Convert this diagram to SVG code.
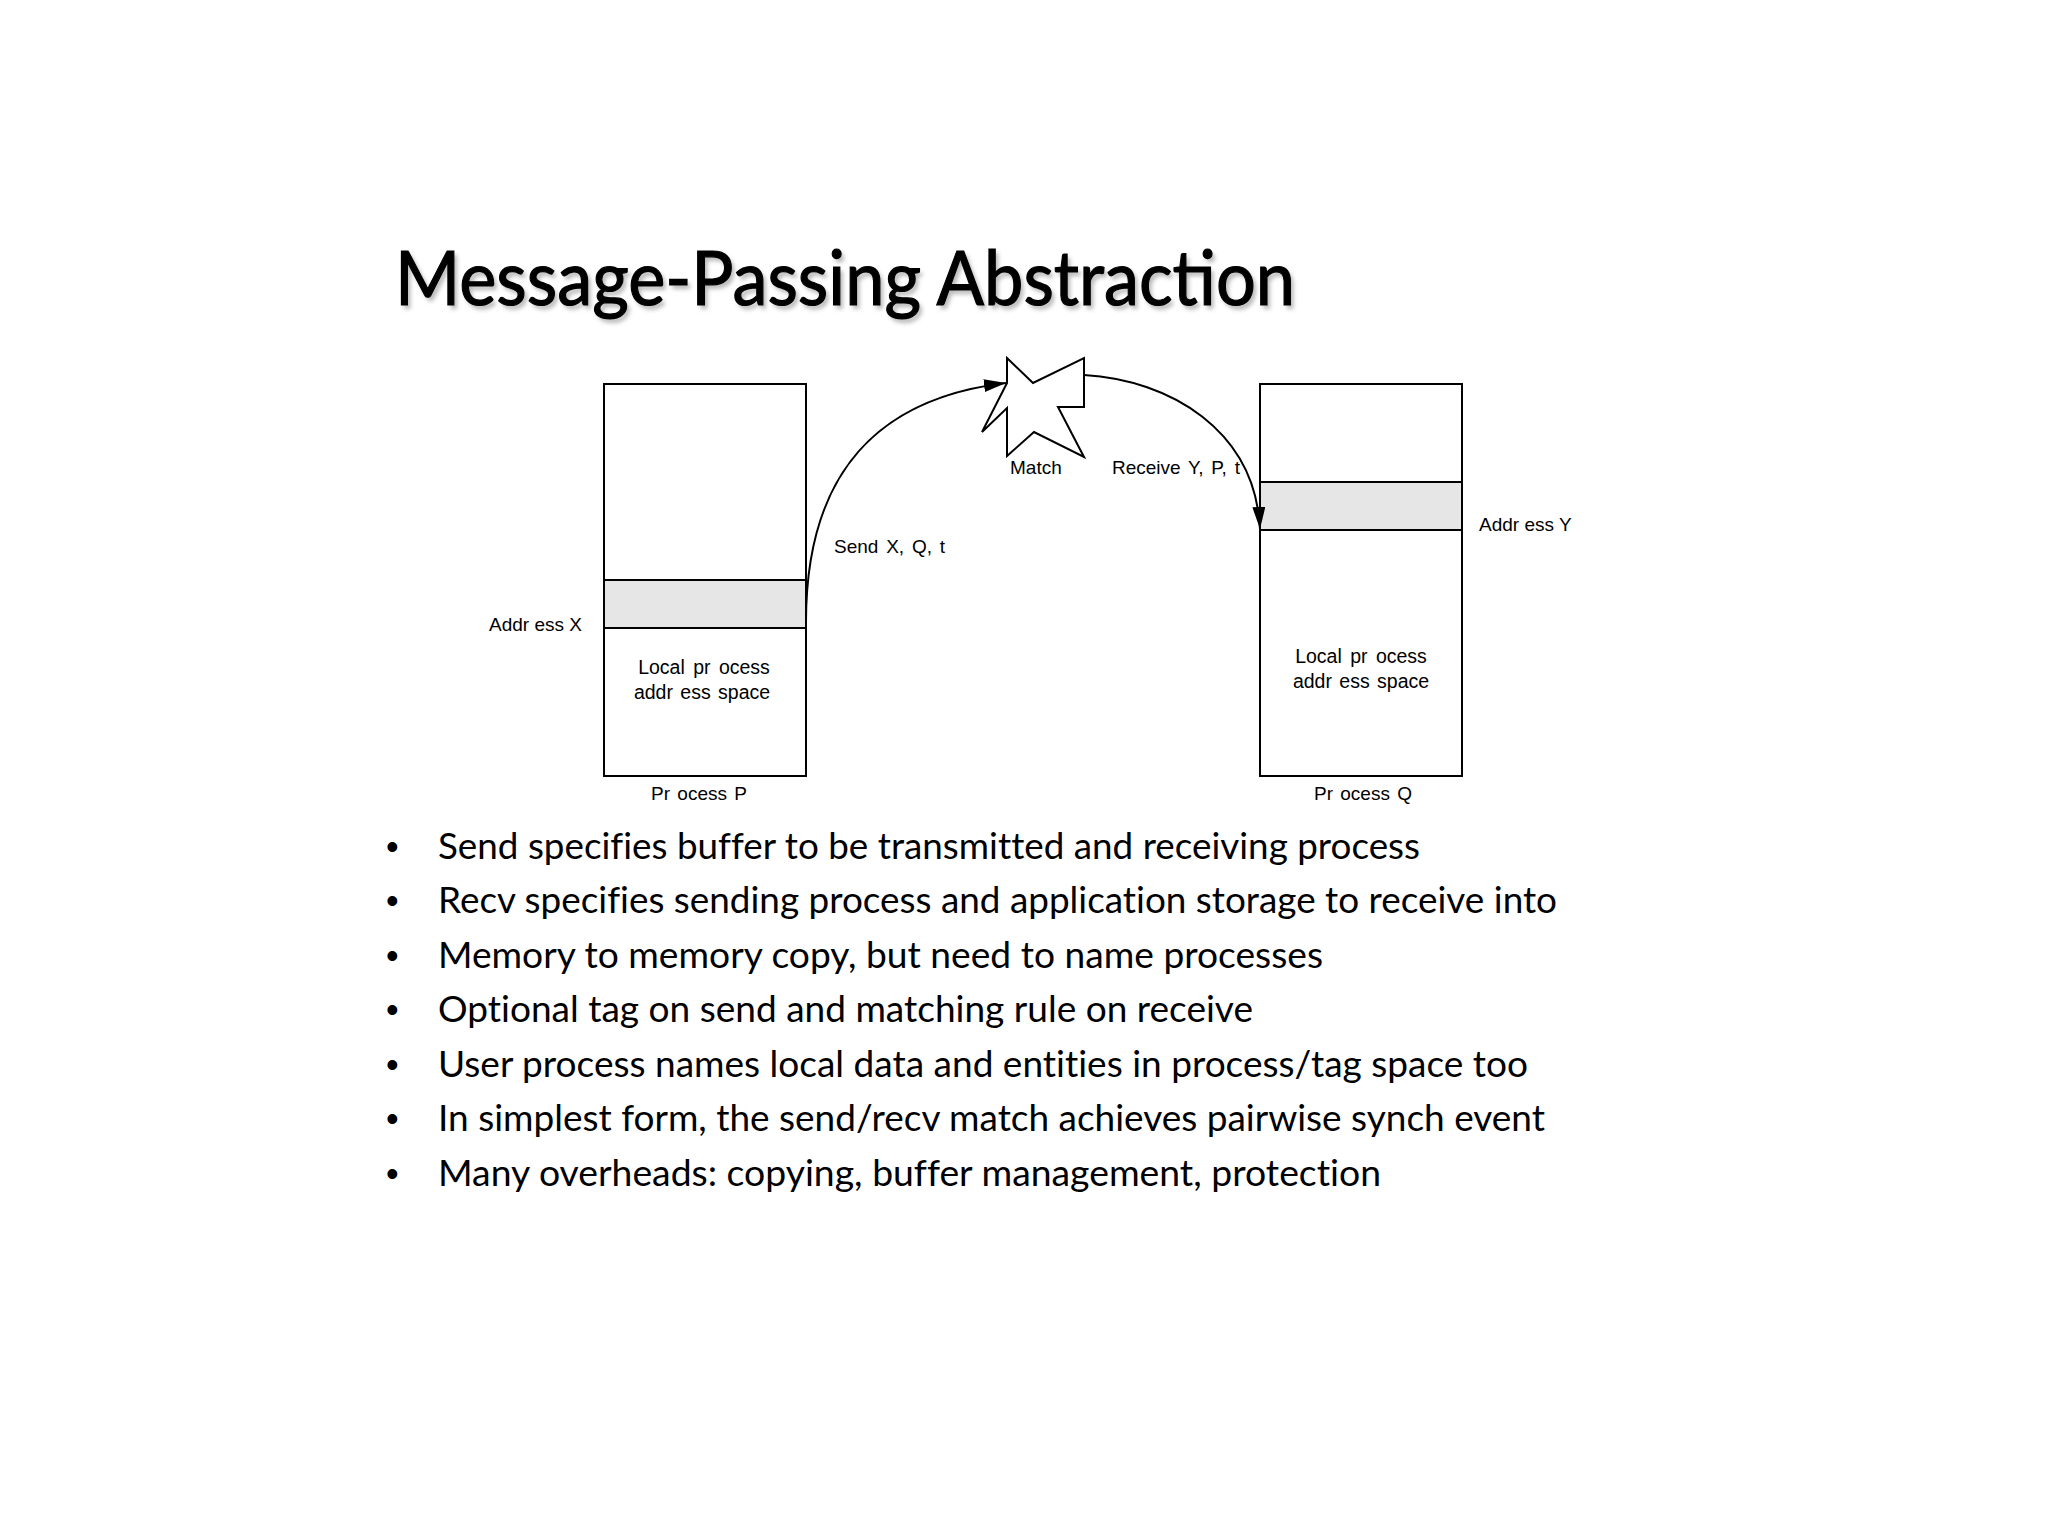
<svg xmlns="http://www.w3.org/2000/svg" width="2048" height="1536" viewBox="0 0 2048 1536">
<style>
.box{fill:#ffffff;stroke:#000;stroke-width:2}
.band{fill:#e6e6e6;stroke:#000;stroke-width:2}
.lbl{font-family:"Liberation Sans",Arial,sans-serif;font-size:19px;fill:#000}
.big{font-size:19.5px}
.mid{text-anchor:middle}
.conn{fill:none;stroke:#000;stroke-width:2}
.bul{font-family:Lato,"Open Sans",sans-serif;font-size:36px;fill:#000;font-variant-ligatures:none}
.dot{font-family:"Liberation Sans",Arial,sans-serif;font-size:36px;fill:#000}
.title{font-family:Lato,"Open Sans",sans-serif;font-size:75px;fill:#000}
</style>
<defs>
<marker id="arrow" markerUnits="userSpaceOnUse" markerWidth="24" markerHeight="14" refX="22" refY="6.5" orient="auto">
<path d="M0,0 L22,6.5 L0,13 z" fill="#000"/>
</marker>
<filter id="shadow" x="-5%" y="-20%" width="110%" height="140%">
<feGaussianBlur stdDeviation="2"/>
</filter>
</defs>
<rect width="2048" height="1536" fill="#ffffff"/>
<g id="title">
<text class="title" x="398" y="309" textLength="900" lengthAdjust="spacingAndGlyphs" style="fill:#999" filter="url(#shadow)" opacity="0.7">Message-Passing Abstraction</text>
<text class="title" x="395" y="305" textLength="900" lengthAdjust="spacingAndGlyphs" stroke="#000" stroke-width="1.2">Message-Passing Abstraction</text>
</g>
<g id="processP">
<rect class="box" x="604" y="384" width="202" height="392"/>
<rect class="band" x="604" y="580" width="202" height="48"/>
<text class="lbl" x="582" y="631" text-anchor="end">Addr ess X</text>
<text class="lbl big mid" x="704" y="674" word-spacing="3">Local pr ocess</text>
<text class="lbl big mid" x="702" y="699" word-spacing="2">addr ess space</text>
<text class="lbl mid" x="699" y="800" word-spacing="2">Pr ocess P</text>
</g>
<g id="processQ">
<rect class="box" x="1260" y="384" width="202" height="392"/>
<rect class="band" x="1260" y="482" width="202" height="48"/>
<text class="lbl" x="1479" y="531">Addr ess Y</text>
<text class="lbl big mid" x="1361" y="663" word-spacing="3">Local pr ocess</text>
<text class="lbl big mid" x="1361" y="688" word-spacing="2">addr ess space</text>
<text class="lbl mid" x="1363" y="800" word-spacing="2">Pr ocess Q</text>
</g>
<g id="match">
<polygon points="1007,358 1033,383 1084,358 1084,407 1058,407 1084,457 1034,432 1007,456 1007,408 982,432 1007,383" fill="#fff" stroke="#000" stroke-width="2" stroke-linejoin="miter"/>
<text class="lbl" x="1010" y="474">Match</text>
</g>
<g id="connectors">
<path class="conn" d="M806,622 C806,470 880,398 1006,383" marker-end="url(#arrow)"/>
<path class="conn" d="M1084,375 C1170,380 1255,430 1260,529" marker-end="url(#arrow)"/>
<text class="lbl" x="834" y="553" word-spacing="2.5">Send X, Q, t</text>
<text class="lbl" x="1112" y="474" word-spacing="2.5">Receive Y, P, t</text>
</g>
<g id="bullets">
<text class="dot" x="386" y="859">•</text>
<text class="bul" x="438" y="859" textLength="982" lengthAdjust="spacingAndGlyphs">Send specifies buffer to be transmitted and receiving process</text>
<text class="dot" x="386" y="913">•</text>
<text class="bul" x="438" y="913" textLength="1119" lengthAdjust="spacingAndGlyphs">Recv specifies sending process and application storage to receive into</text>
<text class="dot" x="386" y="968">•</text>
<text class="bul" x="438" y="968" textLength="885" lengthAdjust="spacingAndGlyphs">Memory to memory copy, but need to name processes</text>
<text class="dot" x="386" y="1022">•</text>
<text class="bul" x="438" y="1022" textLength="815" lengthAdjust="spacingAndGlyphs">Optional tag on send and matching rule on receive</text>
<text class="dot" x="386" y="1077">•</text>
<text class="bul" x="438" y="1077" textLength="1090" lengthAdjust="spacingAndGlyphs">User process names local data and entities in process/tag space too</text>
<text class="dot" x="386" y="1131">•</text>
<text class="bul" x="438" y="1131" textLength="1107" lengthAdjust="spacingAndGlyphs">In simplest form, the send/recv match achieves pairwise synch event</text>
<text class="dot" x="386" y="1186">•</text>
<text class="bul" x="438" y="1186" textLength="943" lengthAdjust="spacingAndGlyphs">Many overheads: copying, buffer management, protection</text>
</g>
</svg>
